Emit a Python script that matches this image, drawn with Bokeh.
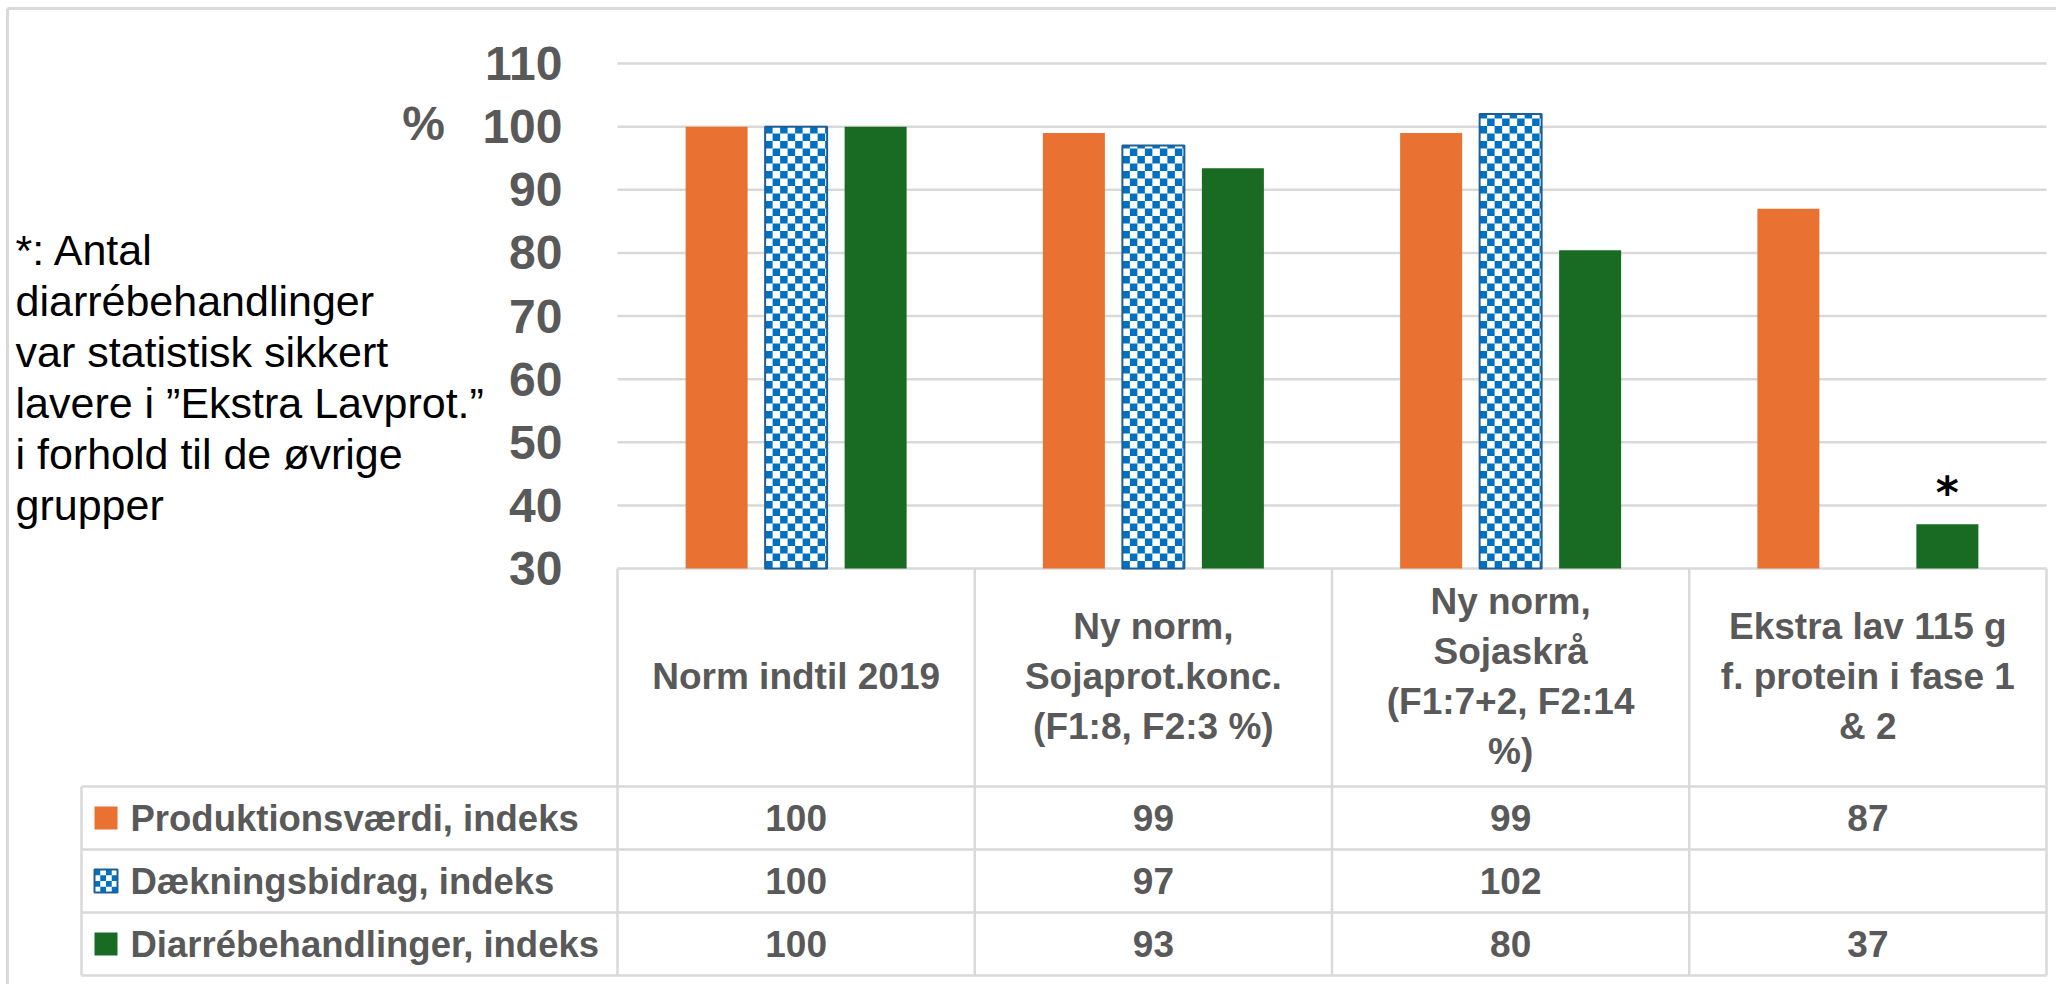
import numpy as np
from bokeh.plotting import figure
from bokeh.models import Range1d, LinearAxis, FixedTicker, ColumnDataSource
from bokeh.core.properties import value
from bokeh.transform import dodge
from bokeh.embed import file_html
from bokeh.resources import INLINE

# ---------------- data ----------------
categories = [
    "Norm indtil 2019",
    "Ny norm,\nSojaprot.konc.\n(F1:8, F2:3 %)",
    "Ny norm,\nSojaskrå\n(F1:7+2, F2:14\n%)",
    "Ekstra lav 115 g\nf. protein i fase 1\n& 2",
]
series_names = ["Produktionsværdi, indeks", "Dækningsbidrag, indeks", "Diarrébehandlinger, indeks"]
produktionsvaerdi = [100, 99, 99, 87]
daekningsbidrag = [100, 97, 102, None]
diarrebehandlinger = [100, 93.4, 80.4, 37]
significance = ["", "", "", "*"]
y_ticks = [30, 40, 50, 60, 70, 80, 90, 100, 110]
y_unit_label = "%"
note_lines = [
    "*: Antal",
    "diarrébehandlinger",
    "var statistisk sikkert",
    "lavere i \u201dEkstra Lavprot.\u201d",
    "i forhold til de øvrige",
    "grupper",
]

# ---------------- styles / layout ----------------
ORANGE = "#E97132"
GREEN = "#196B24"
BLUE = "#0070C0"
BLUE_EDGE = "#1F5F95"
TXT = "#595959"
GRID = "#D9D9D9"
FONT = "Liberation Sans"

W, H = 2056, 984
PL, PR = 617, 2046          # category area (px)
PY_TOP, PY_BOT = 63, 568    # y of top / bottom tick (px)
ncat = len(categories)
ymin, ymax = y_ticks[0], y_ticks[-1]
ux = (PR - PL) / ncat
uy = (PY_BOT - PY_TOP) / (ymax - ymin)

PITCH = 79.5 / ux
BW = 62 / ux
CELL = 7.5

x_range = Range1d(-PL / ux, ncat + (W - PR) / ux)
y_range = Range1d(ymin - (H - PY_BOT) / uy, ymax + PY_TOP / uy)

p = figure(width=W, height=H, x_range=x_range, y_range=y_range,
           output_backend="svg", toolbar_location=None,
           x_axis_location=None, y_axis_location=None,
           min_border=0, title=None)
p.outline_line_color = None
p.grid.visible = False
p.background_fill_color = "white"
p.border_fill_color = "white"
p.extra_x_ranges = {"px": Range1d(0, W)}
p.extra_y_ranges = {"py": Range1d(H, 0)}

# y axis placed at the left edge of the category area
yax = LinearAxis(ticker=FixedTicker(ticks=y_ticks), fixed_location=0)
yax.axis_line_color = None
yax.major_tick_line_color = None
yax.minor_tick_line_color = None
yax.major_tick_out = 0
yax.major_tick_in = 0
yax.major_label_standoff = 55
yax.major_label_text_font = FONT
yax.major_label_text_font_size = "48px"
yax.major_label_text_font_style = "bold"
yax.major_label_text_color = TXT
p.add_layout(yax, "left")

# gridlines
p.segment(x0=0, x1=ncat, y0=y_ticks, y1=y_ticks, line_color=GRID, line_width=2.5)

# "%" unit label next to the 100 tick
p.text(x=[423], y=[100.5], text=[y_unit_label], x_range_name="px",
       text_font=value(FONT), text_font_style="bold", text_font_size="48px", text_color=TXT,
       text_align="center", text_baseline="middle")

# bars
xc = [i + 0.5 for i in range(ncat)]
src = ColumnDataSource(dict(
    x=xc,
    prod=produktionsvaerdi,
    daek=[np.nan if v is None else v for v in daekningsbidrag],
    diar=diarrebehandlinger,
    star=significance,
))
p.vbar(x=dodge("x", -PITCH), top="prod", bottom=ymin, width=BW, source=src,
       fill_color=ORANGE, line_color=None)
p.vbar(x=dodge("x", PITCH), top="diar", bottom=ymin, width=BW, source=src,
       fill_color=GREEN, line_color=None)
p.vbar(x="x", top="daek", bottom=ymin, width=BW, source=src,
       fill_color="white", line_color=None)


def checker(l, r, b, t, cw, ch):
    L, R, B, T = [], [], [], []
    lo, hi = min(b, t), max(b, t)
    nx = int(np.ceil((r - l) / cw))
    ny = int(np.ceil((hi - lo) / ch))
    for a in range(nx):
        for c in range(ny):
            if (a + c) % 2 == 0:
                L.append(l + a * cw)
                R.append(min(l + (a + 1) * cw, r))
                B.append(lo + c * ch)
                T.append(min(lo + (c + 1) * ch, hi))
    return L, R, B, T


cl, cr, cb, ct = [], [], [], []
for xi, v in zip(xc, daekningsbidrag):
    if v is None:
        continue
    L, R, B, T = checker(xi - BW / 2, xi + BW / 2, ymin, v, CELL / ux, CELL / uy)
    cl += L; cr += R; cb += B; ct += T
p.quad(left=cl, right=cr, bottom=cb, top=ct, fill_color=BLUE, line_color=None)
p.vbar(x="x", top="daek", bottom=ymin, width=BW, source=src,
       fill_color=None, line_color=BLUE_EDGE, line_width=2)

# significance star
p.text(x=dodge("x", PITCH), y="diar", text="star", source=src,
       text_font=value("DejaVu Sans"), text_font_style="bold", text_font_size="44px",
       text_color="black", text_align="center", text_baseline="alphabetic", y_offset=-32)

# note text on the left
NOTE_X, NOTE_Y0, NOTE_DY = 15, 249, 51
p.text(x=[NOTE_X] * len(note_lines), y=[NOTE_Y0 + i * NOTE_DY for i in range(len(note_lines))],
       text=note_lines, x_range_name="px", y_range_name="py",
       text_font=value(FONT), text_font_size="43px", text_color="black",
       text_align="left", text_baseline="middle")

# ---------------- data table ----------------
TBL_L = 81
HEAD_C = 676
ROW_EDGES = [786, 849, 912, 975]
row_c = [(ROW_EDGES[i] + ROW_EDGES[i + 1]) / 2 for i in range(3)]

# table lines
p.segment(x0=list(range(ncat + 1)), x1=list(range(ncat + 1)), y0=PY_BOT, y1=ROW_EDGES[-1],
          y_range_name="py", line_color=GRID, line_width=2.5)
p.segment(x0=TBL_L, x1=PR, y0=ROW_EDGES, y1=ROW_EDGES, x_range_name="px", y_range_name="py",
          line_color=GRID, line_width=2.5)
p.segment(x0=[TBL_L], x1=[TBL_L], y0=ROW_EDGES[0], y1=ROW_EDGES[-1], x_range_name="px",
          y_range_name="py", line_color=GRID, line_width=2.5)

# header
p.text(x=xc, y=[HEAD_C] * ncat, text=categories, y_range_name="py",
       text_font=value(FONT), text_font_style="bold", text_font_size="37px",
       text_color=TXT, text_align="center", text_baseline="middle", text_line_height=1.22)

# legend labels
p.text(x=[130] * 3, y=row_c, text=series_names, x_range_name="px", y_range_name="py",
       text_font=value(FONT), text_font_style="bold", text_font_size="36.5px",
       text_color=TXT, text_align="left", text_baseline="middle")

# legend keys
KL, KR, KH = 94, 117, 11.5
p.quad(left=[KL, KL], right=[KR, KR], top=[row_c[0] - KH, row_c[2] - KH],
       bottom=[row_c[0] + KH, row_c[2] + KH], fill_color=[ORANGE, GREEN], line_color=None,
       x_range_name="px", y_range_name="py")
p.quad(left=[KL], right=[KR], top=[row_c[1] - KH], bottom=[row_c[1] + KH],
       fill_color="white", line_color=None, x_range_name="px", y_range_name="py")
L, R, B, T = checker(KL, KR, row_c[1] - KH, row_c[1] + KH, 5.75, 5.75)
p.quad(left=L, right=R, bottom=B, top=T, fill_color=BLUE, line_color=None,
       x_range_name="px", y_range_name="py")
p.quad(left=[KL], right=[KR], top=[row_c[1] - KH], bottom=[row_c[1] + KH],
       fill_color=None, line_color=BLUE_EDGE, line_width=2, x_range_name="px", y_range_name="py")

# values (shown rounded, as in the table)
vx, vy, vt = [], [], []
for r, series in enumerate([produktionsvaerdi, daekningsbidrag, diarrebehandlinger]):
    for i, v in enumerate(series):
        vx.append(xc[i]); vy.append(row_c[r]); vt.append("" if v is None else f"{v:.0f}")
p.text(x=vx, y=vy, text=vt, y_range_name="py",
       text_font=value(FONT), text_font_style="bold", text_font_size="37px",
       text_color=TXT, text_align="center", text_baseline="middle")

# outer frame (top and left edge)
p.segment(x0=[7, 7], x1=[W, 7], y0=[8, 8], y1=[8, H],
          x_range_name="px", y_range_name="py", line_color=GRID, line_width=3)

open("out.html", "w").write(file_html(p, INLINE, title="chart"))
